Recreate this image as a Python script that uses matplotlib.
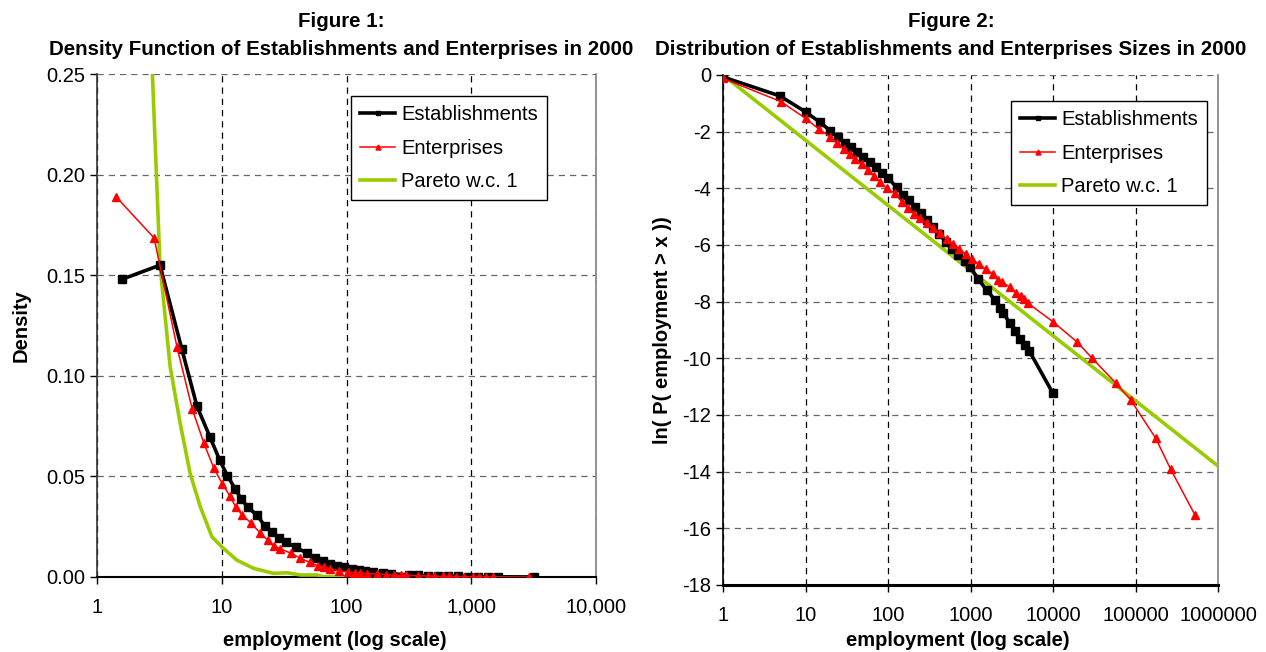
import matplotlib
matplotlib.use("Agg")
import matplotlib.pyplot as plt
from matplotlib.ticker import FixedLocator, NullLocator, FixedFormatter

plt.rcParams['font.family'] = ['Liberation Sans', 'DejaVu Sans']
plt.rcParams['axes.unicode_minus'] = False

# ---- Figure 1 data: density ----
est_x1 = [1.59, 3.2, 4.79, 6.32, 8.04, 9.6, 11.1, 12.8, 14.3, 16.2, 19.2, 22.2, 25.3, 28.8,
          32.5, 39.4, 48, 55.6, 64.5, 74, 83.6, 96, 110, 125, 140, 162, 195, 226, 315, 372,
          448, 538, 648, 779, 937, 1128, 1358, 1633, 3177]
est_y1 = [0.148, 0.155, 0.1132, 0.085, 0.0696, 0.0583, 0.0503, 0.0439, 0.0388, 0.0346,
          0.0307, 0.0253, 0.0222, 0.0194, 0.0172, 0.0149, 0.0118, 0.0094, 0.008, 0.0066,
          0.0053, 0.005, 0.004, 0.0035, 0.003, 0.0026, 0.0021, 0.0017, 0.001, 0.0008,
          0.0006, 0.0005, 0.0004, 0.0003, 0.0002, 0.0002, 0.0001, 0.0001, 0.0]

ent_x1 = [1.42, 2.87, 4.37, 5.8, 7.2, 8.65, 10.1, 11.6, 13, 14.6, 17.3, 20.4, 23.3, 26.1,
          29.3, 35.9, 42.7, 50.7, 58.8, 66.6, 74.3, 87, 102, 118, 129, 147, 177, 206, 239,
          271, 298, 372, 448, 500, 591, 660, 751, 871, 1029, 1149, 1308, 1489, 2897]
ent_y1 = [0.189, 0.1685, 0.1145, 0.0835, 0.0664, 0.054, 0.0464, 0.0403, 0.0346, 0.0308,
          0.0267, 0.0217, 0.0184, 0.0154, 0.0141, 0.0118, 0.0093, 0.0073, 0.0056, 0.005,
          0.004, 0.0031, 0.0026, 0.0021, 0.0019, 0.0017, 0.0015, 0.0012, 0.001, 0.0009,
          0.0008, 0.0006, 0.0005, 0.0004, 0.0003, 0.0003, 0.0002, 0.0002, 0.0001, 0.0001,
          0.0001, 0.0001, 0.0]

par_x1 = [2.78, 3.2, 3.41, 3.86, 4.64, 5.58, 6.72, 8.34, 10, 13.2, 18, 26, 33.4, 42.7, 58,
          65, 100, 3000]
par_y1 = [0.25, 0.155, 0.1377, 0.1045, 0.0764, 0.0515, 0.035, 0.02, 0.015, 0.0084, 0.0043,
          0.0018, 0.0021, 0.001, 0.001, 0.0002, 0.0001, 0.0]

# ---- Figure 2 data: ln P(employment > x) ----
est_x2 = [1, 4.9, 10, 15, 20, 25, 30, 36, 42.5, 50, 60.5, 71, 84, 101, 127, 153, 180, 212,
          249, 294, 354, 419, 500, 591, 711, 857, 986, 1245, 1571, 1983, 2280, 2500, 3013,
          3459, 3981, 4581, 5164, 10000]
est_y2 = [-0.07, -0.74, -1.3, -1.67, -1.97, -2.2, -2.39, -2.55, -2.73, -2.9, -3.06, -3.26,
          -3.45, -3.65, -3.96, -4.24, -4.41, -4.65, -4.88, -5.12, -5.38, -5.61, -5.88, -6.15,
          -6.35, -6.55, -6.77, -7.21, -7.59, -7.94, -8.24, -8.4, -8.77, -9.02, -9.3, -9.53,
          -9.74, -11.24]

ent_x2 = [1, 5.05, 10, 14.7, 19.8, 24.3, 29.3, 34.6, 39.8, 48, 57.8, 67.6, 80, 96.4, 122,
          147, 176, 207, 244, 294, 354, 427, 514, 608, 731, 881, 1033, 1276, 1542, 1888,
          2173, 2388, 3013, 3565, 4055, 4446, 5012, 10000, 19720, 29440, 58080, 87500,
          175800, 267300, 526000]
ent_y2 = [-0.12, -0.94, -1.53, -1.92, -2.18, -2.41, -2.62, -2.8, -2.96, -3.14, -3.35, -3.55,
          -3.77, -4.0, -4.18, -4.47, -4.71, -4.91, -5.06, -5.24, -5.41, -5.59, -5.79, -5.96,
          -6.15, -6.32, -6.51, -6.67, -6.86, -7.02, -7.24, -7.3, -7.49, -7.68, -7.8, -7.92,
          -8.06, -8.71, -9.43, -9.98, -10.88, -11.47, -12.82, -13.92, -15.53]

par_x2 = [1, 1000000]
par_y2 = [0.0, -13.8]

GREEN = '#99CC00'
FS = 14.5
TFS = 14.8

fig = plt.figure(figsize=(12.66, 6.52), dpi=100)
ax1 = fig.add_axes([97/1266, 75/652, 499/1266, 503/652])
ax2 = fig.add_axes([723/1266, 67/652, 495/1266, 510/652])


def style_axes(ax, xt, xl, yt, yl, bottom_lw):
    ax.set_xscale('log')
    ax.xaxis.set_major_locator(FixedLocator(xt))
    ax.xaxis.set_major_formatter(FixedFormatter(xl))
    ax.xaxis.set_minor_locator(NullLocator())
    ax.set_yticks(yt)
    ax.set_yticklabels(yl)
    ax.tick_params(labelsize=FS, direction='out', length=5, width=1, colors='black')
    ax.tick_params(axis='x', pad=10)
    ax.grid(axis='x', color='black', linestyle=(0, (5, 4)), linewidth=0.9)
    ax.grid(axis='y', color='#666666', linestyle=(0, (5, 4)), linewidth=0.9)
    ax.set_axisbelow(True)
    ax.spines['top'].set_visible(False)
    ax.spines['right'].set_color('#808080')
    ax.spines['right'].set_linewidth(1.2)
    ax.spines['left'].set_color('#333333')
    ax.spines['left'].set_linewidth(1.2)
    ax.spines['bottom'].set_color('black')
    ax.spines['bottom'].set_linewidth(bottom_lw)


def add_legend(ax, anchor):
    leg = ax.legend(loc='upper right', bbox_to_anchor=anchor, borderaxespad=0, fontsize=FS,
                    frameon=True, fancybox=False, edgecolor='black', framealpha=1,
                    markerscale=0.6, handlelength=1.75, handletextpad=0.3, borderpad=0.45,
                    labelspacing=0.72)
    leg.get_frame().set_linewidth(1.0)


# Figure 1
ax1.plot(est_x1, est_y1, color='black', lw=2.6, marker='s', ms=5.5, label='Establishments', zorder=4)
ax1.plot(ent_x1, ent_y1, color='red', lw=1.1, marker='^', ms=6, label='Enterprises', zorder=5)
ax1.plot(par_x1, par_y1, color=GREEN, lw=2.6, label='Pareto w.c. 1', zorder=3)
ax1.set_xlim(1, 10000)
ax1.set_ylim(0, 0.25)
style_axes(ax1, [1, 10, 100, 1000, 10000], ['1', '10', '100', '1,000', '10,000'],
           [0, 0.05, 0.10, 0.15, 0.20, 0.25], ['0.00', '0.05', '0.10', '0.15', '0.20', '0.25'], 1.5)
ax1.set_ylabel('Density', fontsize=FS, fontweight='bold')
ax1.yaxis.set_label_coords(-0.134, 0.5)
ax1.set_xlabel('employment (log scale)', fontsize=FS, fontweight='bold')
ax1.xaxis.set_label_coords(0.477, -0.107)
add_legend(ax1, (0.902, 0.956))

# Figure 2
ax2.plot(est_x2, est_y2, color='black', lw=2.6, marker='s', ms=5.5, label='Establishments', zorder=4)
ax2.plot(ent_x2, ent_y2, color='red', lw=1.1, marker='^', ms=6, label='Enterprises', zorder=5)
ax2.plot(par_x2, par_y2, color=GREEN, lw=2.6, label='Pareto w.c. 1', zorder=3)
ax2.set_xlim(1, 1000000)
ax2.set_ylim(-18, 0)
yt2 = [0, -2, -4, -6, -8, -10, -12, -14, -16, -18]
style_axes(ax2, [1, 10, 100, 1000, 10000, 100000, 1000000],
           ['1', '10', '100', '1000', '10000', '100000', '1000000'],
           yt2, [str(v) for v in yt2], 2.2)
ax2.spines['left'].set_color('black')
ax2.set_ylabel('ln( P( employment > x ))', fontsize=FS, fontweight='bold')
ax2.yaxis.set_label_coords(-0.103, 0.5)
ax2.set_xlabel('employment (log scale)', fontsize=FS, fontweight='bold')
ax2.xaxis.set_label_coords(0.475, -0.091)
add_legend(ax2, (0.978, 0.949))

# titles
fig.text(341/1266, 1 - 27/652, 'Figure 1:', ha='center', va='baseline', fontsize=TFS, fontweight='bold')
fig.text(341/1266, 1 - 55/652, 'Density Function of Establishments and Enterprises in 2000',
         ha='center', va='baseline', fontsize=TFS, fontweight='bold')
fig.text(951/1266, 1 - 27/652, 'Figure 2:', ha='center', va='baseline', fontsize=TFS, fontweight='bold')
fig.text(951/1266, 1 - 55/652, 'Distribution of Establishments and Enterprises Sizes in 2000',
         ha='center', va='baseline', fontsize=TFS, fontweight='bold')

fig.savefig('out.png', dpi=100)
